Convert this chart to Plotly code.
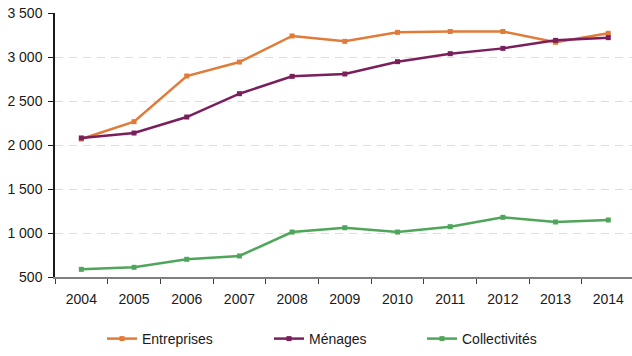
import plotly.graph_objects as go

# Annual values per sector, 2004-2014
years = ["2004", "2005", "2006", "2007", "2008", "2009", "2010", "2011", "2012", "2013", "2014"]
entreprises = [2068, 2265, 2784, 2943, 3239, 3178, 3280, 3290, 3290, 3167, 3269]
menages = [2080, 2136, 2318, 2583, 2780, 2807, 2947, 3038, 3098, 3189, 3220]
collectivites = [587, 610, 701, 739, 1011, 1060, 1011, 1072, 1178, 1125, 1148]

y_tickvals = [500, 1000, 1500, 2000, 2500, 3000, 3500]
y_ticktext = ["500", "1 000", "1 500", "2 000", "2 500", "3 000", "3 500"]

W, H = 632, 356
M_L, M_R, M_T, M_B = 55, 0, 13, 79
plot_w = W - M_L - M_R
plot_h = H - M_T - M_B

series = [
    ("Entreprises", entreprises, "#E07B39", "legend", 102),
    ("Ménages", menages, "#7A1F5C", "legend2", 269),
    ("Collectivités", collectivites, "#4FA65B", "legend3", 422),
]

fig = go.Figure()
legend_layouts = {}
for name, values, color, legend_id, left_px in series:
    fig.add_trace(go.Scatter(
        x=years, y=values, name=name, mode="lines+markers",
        line=dict(color=color, width=2.5),
        marker=dict(symbol="square", size=5, color=color),
        legend=legend_id,
    ))
    # one single-entry legend per series, placed along the bottom edge
    legend_layouts[legend_id] = dict(
        x=(left_px - M_L) / plot_w, xanchor="left",
        y=-(339 - (H - M_B)) / plot_h, yanchor="middle",
        font=dict(size=14), itemwidth=30,
        bgcolor="rgba(0,0,0,0)",
    )

font_family = "Liberation Sans, Arial, sans-serif"

fig.update_layout(
    width=W, height=H,
    margin=dict(l=M_L, r=M_R, t=M_T, b=M_B),
    paper_bgcolor="white", plot_bgcolor="white",
    font=dict(family=font_family, size=14, color="#1a1a1a"),
    showlegend=True,
    xaxis=dict(
        type="category", range=[-0.5, 10.45],
        showline=True, linecolor="#7f7f7f", linewidth=1.5,
        ticks="outside", tickson="boundaries", ticklen=5, tickcolor="#404040",
        showgrid=False, tickfont=dict(size=14), ticklabelstandoff=8,
    ),
    yaxis=dict(
        range=[500, 3500], tickvals=y_tickvals, ticktext=y_ticktext,
        showline=True, linecolor="#1a1a1a", linewidth=1.5,
        ticks="outside", ticklen=5, tickcolor="#1a1a1a",
        showgrid=True, gridcolor="#B3ECF7", griddash="8px,6px", gridwidth=1,
        zeroline=False, tickfont=dict(size=14), ticklabelstandoff=3,
    ),
    **legend_layouts,
)

fig.write_html("out.html")
